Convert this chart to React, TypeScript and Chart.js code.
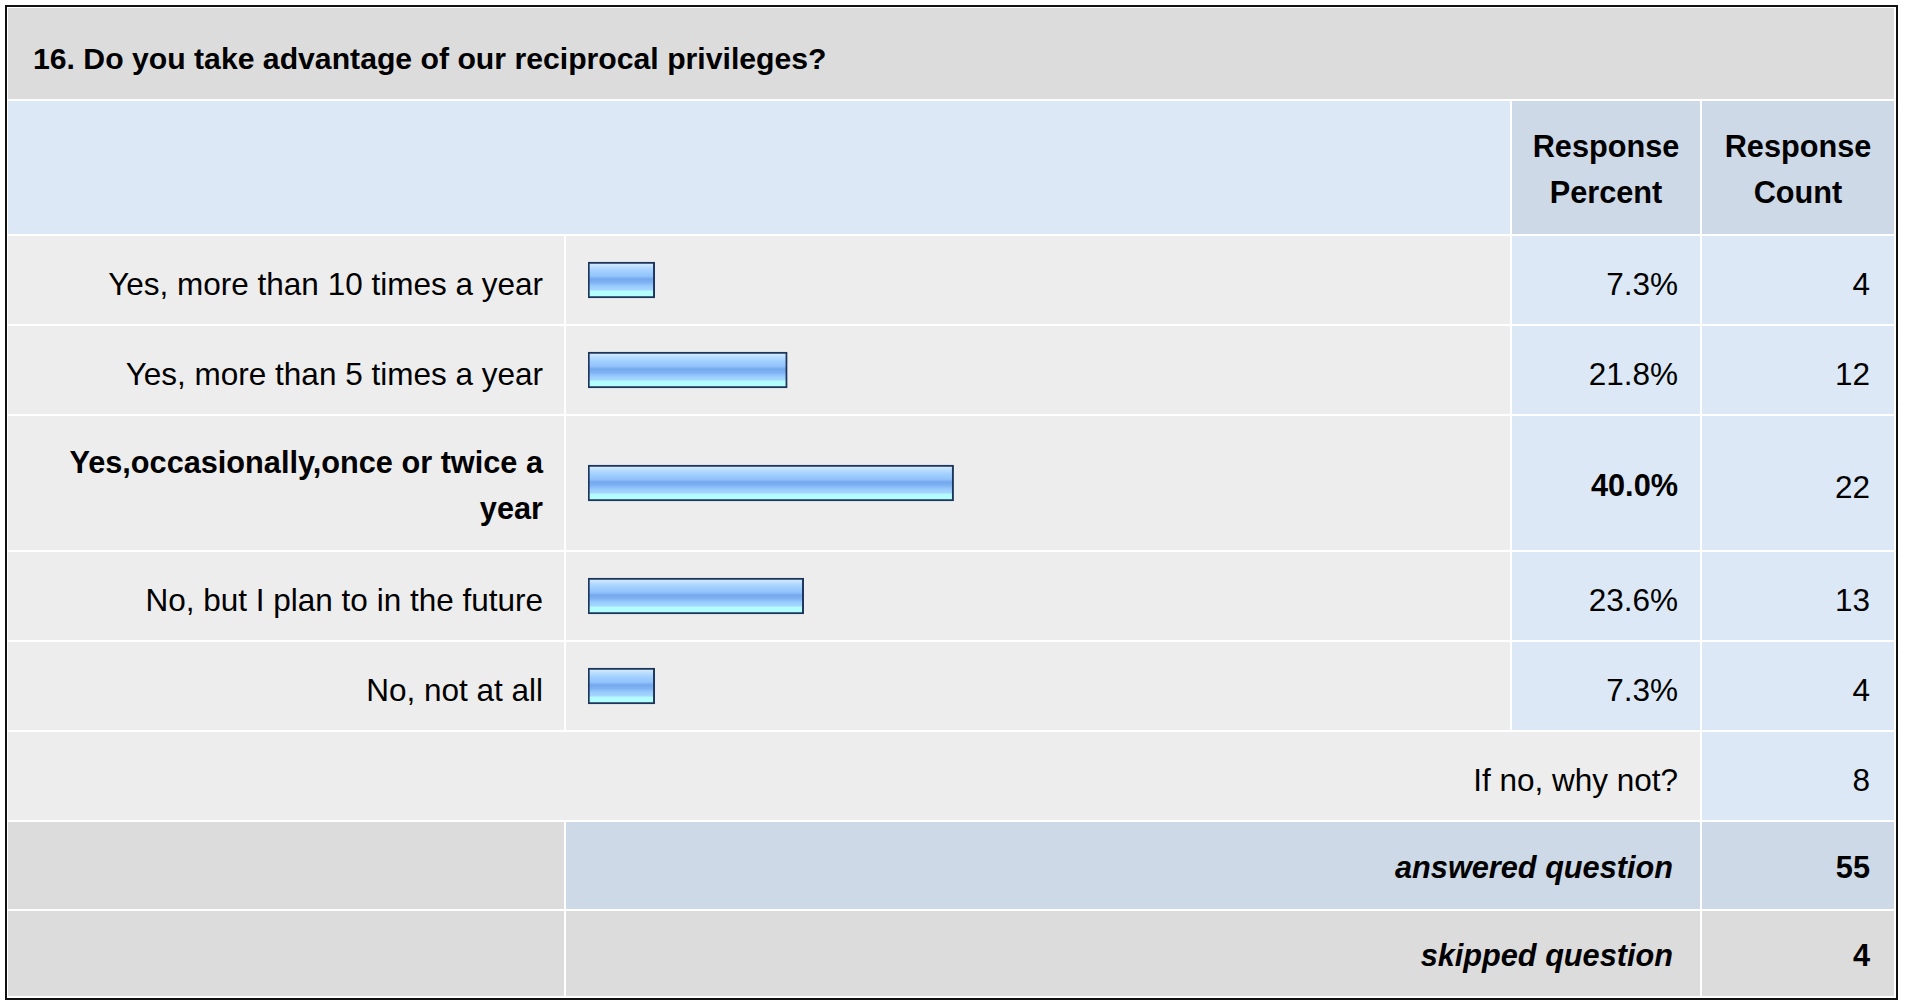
import React, { useEffect, useRef } from "react";
import { Chart, registerables } from "chart.js";

Chart.register(...registerables);

// ---------- data ----------
const questionTitle = "16. Do you take advantage of our reciprocal privileges?";
const headerPercent = ["Response", "Percent"];
const headerCount = ["Response", "Count"];
const answerLabels = [
  "Yes, more than 10 times a year",
  "Yes, more than 5 times a year",
  "Yes,occasionally,once or twice a year",
  "No, but I plan to in the future",
  "No, not at all",
];
const responsePercents = [7.3, 21.8, 40.0, 23.6, 7.3];
const responseCounts = [4, 12, 22, 13, 4];
const otherLabel = "If no, why not?";
const otherCount = 8;
const answeredLabel = "answered question";
const answeredCount = 55;
const skippedLabel = "skipped question";
const skippedCount = 4;

// ---------- layout ----------
const FONT = '"Liberation Sans", Arial, Helvetica, sans-serif';
const FS = 31.5;
const FS_BOLD = 30.7;
const colX = [8, 566, 1512, 1702];
const colEnd = [564, 1510, 1700, 1894];
const titleRow = [8, 99];
const headerRow = [101, 234];
const answerRows = [
  [236, 324],
  [326, 414],
  [416, 550],
  [552, 640],
  [642, 730],
];
const otherRow = [732, 820];
const answeredRow = [822, 909];
const skippedRow = [911, 996];

const C_TITLE = "#dcdcdc";
const C_HEAD = "#dce8f5";
const C_HEAD2 = "#cdd9e6";
const C_ROW = "#ededed";
const C_VAL = "#dce8f5";

function Cell(props: {
  x0: number;
  x1: number;
  y0: number;
  y1: number;
  bg: string;
  align?: "left" | "right" | "center";
  padL?: number;
  padR?: number;
  padT?: number;
  bold?: boolean;
  italic?: boolean;
  fs?: number;
  children?: React.ReactNode;
}) {
  const { x0, x1, y0, y1, bg, align = "right", padL = 20, padR = 20, bold, italic } = props;
  const padT = props.padT ?? (bold ? 5 : 8);
  const fs = props.fs ?? (bold ? FS_BOLD : FS);
  const justify = align === "left" ? "flex-start" : align === "center" ? "center" : "flex-end";
  return (
    <div
      style={{
        position: "absolute",
        left: x0,
        top: y0,
        width: x1 - x0,
        height: y1 - y0,
        background: bg,
        display: "flex",
        alignItems: "center",
        justifyContent: justify,
        boxSizing: "border-box",
        paddingLeft: padL,
        paddingRight: padR,
        paddingTop: padT,
        textAlign: align,
        fontSize: fs,
        lineHeight: "46px",
        fontWeight: bold ? "bold" : "normal",
        fontStyle: italic ? "italic" : "normal",
        color: "#000",
      }}
    >
      <div>{props.children}</div>
    </div>
  );
}

function BarCell(props: { value: number; label: string; width: number; height: number }) {
  const ref = useRef<HTMLCanvasElement | null>(null);
  useEffect(() => {
    if (!ref.current) return;
    const chart = new Chart(ref.current, {
      type: "bar",
      data: {
        labels: [props.label],
        datasets: [
          {
            data: [props.value],
            barThickness: 36,
            borderWidth: 2,
            borderColor: "#1c365c",
            borderSkipped: false,
            backgroundColor: (c: any) => {
              const ch = c.chart;
              const area = ch.chartArea;
              if (!area) return "#9cc8fb";
              const cy = (area.top + area.bottom) / 2;
              const g = ch.ctx.createLinearGradient(0, cy - 16, 0, cy + 16);
              g.addColorStop(0, "#d2e9ff");
              g.addColorStop(0.12, "#b4daff");
              g.addColorStop(0.25, "#9ecdff");
              g.addColorStop(0.38, "#94c3fb");
              g.addColorStop(0.47, "#74a8ee");
              g.addColorStop(0.58, "#80b3f3");
              g.addColorStop(0.7, "#9accfe");
              g.addColorStop(0.8, "#a4d6ff");
              g.addColorStop(0.86, "#b4fcff");
              g.addColorStop(1, "#b4ffff");
              return g;
            },
          } as any,
        ],
      },
      options: {
        responsive: false,
        maintainAspectRatio: false,
        animation: false,
        indexAxis: "y",
        layout: { padding: { left: 22, right: 8, top: 0, bottom: 0 } },
        plugins: { legend: { display: false }, tooltip: { enabled: false } },
        scales: {
          x: { type: "linear", min: 0, max: 100, display: false },
          y: { display: false },
        },
      } as any,
    });
    return () => chart.destroy();
  }, [props.value, props.label, props.width, props.height]);
  return (
    <canvas
      ref={ref}
      width={props.width}
      height={props.height}
      style={{ display: "block", width: props.width, height: props.height }}
    />
  );
}

export default function App() {
  useEffect(() => {
    document.body.style.margin = "0";
    document.body.style.background = "#fff";
  }, []);

  const maxIdx = responsePercents.indexOf(Math.max(...responsePercents));

  return (
    <div
      style={{
        position: "absolute",
        left: 5,
        top: 5,
        width: 1893,
        height: 995,
        fontFamily: FONT,
      }}
    >
      <div
        style={{
          position: "absolute",
          left: 0,
          top: 0,
          width: 1893,
          height: 995,
          boxSizing: "border-box",
          border: "2px solid #111",
          background: "#fff",
        }}
      />
      <div style={{ position: "absolute", left: -5, top: -5 }}>
        {/* title */}
        <Cell x0={colX[0]} x1={colEnd[3]} y0={titleRow[0]} y1={titleRow[1]} bg={C_TITLE} align="left" padL={25} padT={10} bold fs={30.2}>
          {questionTitle}
        </Cell>
        {/* header */}
        <Cell x0={colX[0]} x1={colEnd[1]} y0={headerRow[0]} y1={headerRow[1]} bg={C_HEAD} />
        <Cell x0={colX[2]} x1={colEnd[2]} y0={headerRow[0]} y1={headerRow[1]} bg={C_HEAD2} align="center" padL={0} padR={0} bold>
          {headerPercent[0]}
          <br />
          {headerPercent[1]}
        </Cell>
        <Cell x0={colX[3]} x1={colEnd[3]} y0={headerRow[0]} y1={headerRow[1]} bg={C_HEAD2} align="center" padL={0} padR={0} bold>
          {headerCount[0]}
          <br />
          {headerCount[1]}
        </Cell>
        {/* answer rows */}
        {answerLabels.map((lab, i) => {
          const [y0, y1] = answerRows[i];
          const hi = i === maxIdx;
          return (
            <React.Fragment key={lab}>
              <Cell x0={colX[0]} x1={colEnd[0]} y0={y0} y1={y1} bg={C_ROW} padR={21} bold={hi}>
                {lab}
              </Cell>
              <div
                style={{
                  position: "absolute",
                  left: colX[1],
                  top: y0,
                  width: colEnd[1] - colX[1],
                  height: y1 - y0,
                  background: C_ROW,
                }}
              >
                <BarCell value={responsePercents[i]} label={lab} width={colEnd[1] - colX[1]} height={y1 - y0} />
              </div>
              <Cell x0={colX[2]} x1={colEnd[2]} y0={y0} y1={y1} bg={C_VAL} padR={22} bold={hi}>
                {responsePercents[i].toFixed(1) + "%"}
              </Cell>
              <Cell x0={colX[3]} x1={colEnd[3]} y0={y0} y1={y1} bg={C_VAL} padR={24}>
                {String(responseCounts[i])}
              </Cell>
            </React.Fragment>
          );
        })}
        {/* other */}
        <Cell x0={colX[0]} x1={colEnd[2]} y0={otherRow[0]} y1={otherRow[1]} bg={C_ROW} padR={22}>
          {otherLabel}
        </Cell>
        <Cell x0={colX[3]} x1={colEnd[3]} y0={otherRow[0]} y1={otherRow[1]} bg={C_VAL} padR={24}>
          {String(otherCount)}
        </Cell>
        {/* answered */}
        <Cell x0={colX[0]} x1={colEnd[0]} y0={answeredRow[0]} y1={answeredRow[1]} bg={C_TITLE} />
        <Cell x0={colX[1]} x1={colEnd[2]} y0={answeredRow[0]} y1={answeredRow[1]} bg={C_HEAD2} padR={27} bold italic>
          {answeredLabel}
        </Cell>
        <Cell x0={colX[3]} x1={colEnd[3]} y0={answeredRow[0]} y1={answeredRow[1]} bg={C_HEAD2} padR={24} bold>
          {String(answeredCount)}
        </Cell>
        {/* skipped */}
        <Cell x0={colX[0]} x1={colEnd[0]} y0={skippedRow[0]} y1={skippedRow[1]} bg={C_TITLE} />
        <Cell x0={colX[1]} x1={colEnd[2]} y0={skippedRow[0]} y1={skippedRow[1]} bg={C_TITLE} padR={27} bold italic>
          {skippedLabel}
        </Cell>
        <Cell x0={colX[3]} x1={colEnd[3]} y0={skippedRow[0]} y1={skippedRow[1]} bg={C_TITLE} padR={24} bold>
          {String(skippedCount)}
        </Cell>
      </div>
    </div>
  );
}
